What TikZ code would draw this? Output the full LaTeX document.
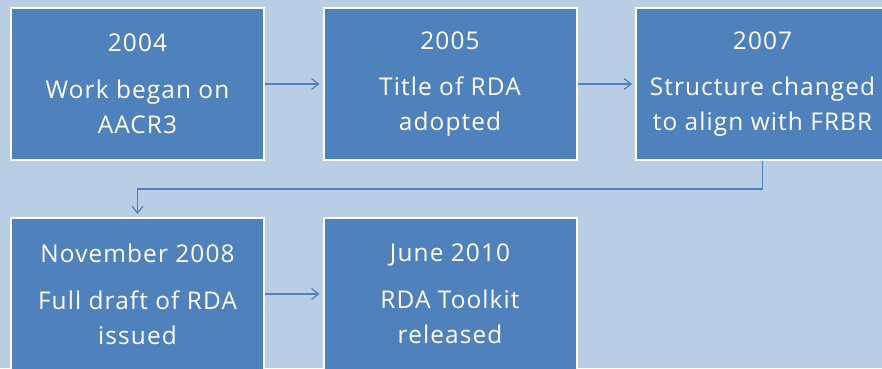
\documentclass[tikz,border=0pt]{standalone}
\usepackage{fontspec}
\setmainfont{Open Sans}[LetterSpace=4.5]
\usetikzlibrary{arrows.meta}
\definecolor{bg}{HTML}{B9CDE5}
\definecolor{boxblue}{HTML}{4F81BD}
\definecolor{linkblue}{HTML}{4F81BD}
\tikzset{
  evbox/.style={draw=white, line width=2bp, fill=boxblue, text=white,
    minimum width=253bp, minimum height=152bp, align=center, inner sep=0pt,
    font=\fontsize{24.5}{35}\selectfont},
  link/.style={draw=linkblue, line width=1.2bp, -{Straight Barb[length=7bp,width=11bp]}, shorten >=3bp}
}
\begin{document}
\begin{tikzpicture}[x=1bp,y=-1bp]
\fill[bg] (0,0) rectangle (882,368);
\useasboundingbox (0,0) rectangle (882,368);
\clip (0,0) rectangle (882,368);
\node[evbox] (b1) at (137.5,84) {2004\\[12bp]Work began on\\AACR3};
\node[evbox] (b2) at (450,84) {2005\\[12bp]Title of RDA\\adopted};
\node[evbox] (b3) at (762.5,84) {2007\\[12bp]Structure changed\\to align with FRBR};
\node[evbox] (b4) at (137.5,294) {November 2008\\[12bp]Full draft of RDA\\issued};
\node[evbox] (b5) at (450,294) {June 2010\\[12bp]RDA Toolkit\\released};
\draw[link] (b1) -- (b2);
\draw[link] (b2) -- (b3);
\draw[link] (b3.south) -- ++(0,28) -| (b4.north);
\draw[link] (b4) -- (b5);
\end{tikzpicture}
\end{document}
